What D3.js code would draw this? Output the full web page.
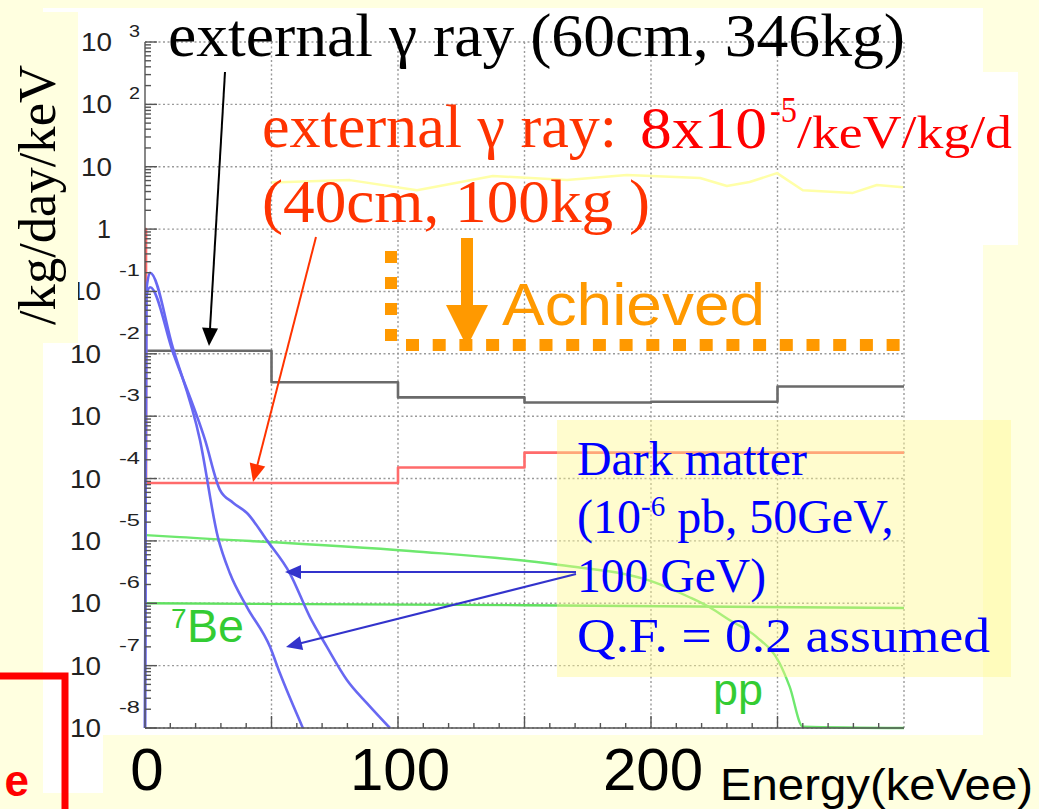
<!DOCTYPE html>
<html>
<head>
<meta charset="utf-8">
<script src="https://cdn.jsdelivr.net/npm/d3@7"></script>
<style>
  html, body { margin: 0; padding: 0; background: #FFFFE0; }
  svg { display: block; }
</style>
</head>
<body>
<svg id="chart" width="1039" height="809"></svg>
<script>
// ---- Data (rate in counts/kg/day/keV versus energy in keVee) ----
// External gamma background, 60 cm shield, 346 kg fiducial (step histogram)
const gamma346Edges = [0, 50, 100, 150, 200, 250, 300];
const gamma346Rate  = [0.0112, 0.0035, 0.0020, 0.00166, 0.0017, 0.0030];

// External gamma background, 40 cm shield, 100 kg fiducial (step histogram)
const gamma100Edges = [0, 0.4, 50, 100, 150, 200, 250, 300];
const gamma100Rate  = [1.0, 8.5e-5, 8.5e-5, 1.5e-4, 2.6e-4, 2.6e-4, 2.6e-4];

// Dark matter recoil spectra, 1e-6 pb, Q.F. = 0.2
const dm50Energy  = [0, 0.5, 2, 11, 21.7, 28.8, 33.6, 40.3, 49.4, 53.3, 62.4];
const dm50Rate    = [1e-8, 0.1, 0.2, 0.0126, 4.2e-4, 1.15e-5, 3.0e-6, 8.7e-7, 2.0e-7, 7.6e-8, 1.0e-8];
const dm100Energy = [0, 0.5, 2, 11, 23.7, 29.6, 34.8, 40.3, 48.2, 57.3, 65.2, 71.9, 79.8, 87.7, 96.8];
const dm100Rate   = [1e-8, 0.08, 0.117, 0.0107, 4.2e-4, 6.6e-5, 4.1e-5, 2.8e-5, 1.02e-5, 3.0e-6, 6.0e-7, 2.0e-7, 5.9e-8, 2.5e-8, 1.0e-8];

// Solar neutrino backgrounds
const ppEnergy  = [0, 13.8, 104.7, 164, 199.5, 215, 223, 231, 241.7, 250.8, 254.8, 260, 300];
const ppRate    = [1.24e-5, 1.15e-5, 6.9e-6, 4.1e-6, 2.3e-6, 1.26e-6, 8.7e-7, 5.4e-7, 2.9e-7, 1.1e-7, 4.6e-8, 1.05e-8, 1.0e-8];
const be7Energy = [0, 150, 300];
const be7Rate   = [1.0e-6, 0.93e-6, 0.84e-6];

// Faint reference spectrum near 10 counts/kg/day/keV
const faintEnergy = [50, 81, 107.5, 137.5, 166.8, 190.5, 219.4, 230, 239, 249.8, 260, 279.8, 289.3, 299.6];
const faintRate   = [5.6, 6.1, 4.2, 7.1, 6.1, 7.4, 6.6, 4.9, 5.7, 7.9, 4.2, 3.8, 5.1, 4.7];

// Axis ticks
const yDecades = [-8, -7, -6, -5, -4, -3, -2, -1, 0, 1, 2, 3];
const xGridTicks = [0, 50, 100, 150, 200, 250, 300];
const xLabelTicks = [0, 100, 200];
const xTitle = "Energy(keVee)";
const yTitle = "/kg/day/keV";

// ---- Layout ----
const svg = d3.select("#chart");
const x = d3.scaleLinear().domain([0, 300]).range([145, 904]);
const y = d3.scaleLog().domain([1e-8, 1e3]).range([728, 42]);

const CREAM = "#FFFFE0";
const SERIF = "'Liberation Serif', 'Times New Roman', serif";
const SANS = "'Liberation Sans', Arial, Helvetica, sans-serif";

// slide background and chart panel
svg.append("rect").attr("width", 1039).attr("height", 809).attr("fill", CREAM);
const panels = [[43, 8, 940, 727], [43, 735, 60, 58], [900, 72, 118, 173]];
svg.selectAll("rect.panel").data(panels).join("rect").attr("class", "panel")
  .attr("x", d => d[0]).attr("y", d => d[1]).attr("width", d => d[2]).attr("height", d => d[3])
  .attr("fill", "#FFFFFF");

// ---- Grid ----
const grid = svg.append("g").attr("stroke", "#9a9a9a").attr("stroke-width", 1.4)
  .attr("stroke-dasharray", "2,2.5");
grid.selectAll("line.h").data(yDecades).join("line").attr("class", "h")
  .attr("x1", x(0)).attr("x2", x(300))
  .attr("y1", d => y(Math.pow(10, d))).attr("y2", d => y(Math.pow(10, d)));
grid.selectAll("line.v").data(xGridTicks.slice(1)).join("line").attr("class", "v")
  .attr("x1", d => x(d)).attr("x2", d => x(d)).attr("y1", y(1e3)).attr("y2", y(1e-8));

// ---- Series ----
function stepPoints(edges, rates) {
  const pts = rates.map((r, i) => [edges[i], r]);
  pts.push([edges[edges.length - 1], rates[rates.length - 1]]);
  return pts;
}
const zip = (xs, ys) => xs.map((v, i) => [v, ys[i]]);
const stepLine = d3.line().x(d => x(d[0])).y(d => y(d[1])).curve(d3.curveStepAfter);
const smoothLine = d3.line().x(d => x(d[0])).y(d => y(d[1])).curve(d3.curveMonotoneX);
const straightLine = d3.line().x(d => x(d[0])).y(d => y(d[1]));

const plot = svg.append("g").attr("fill", "none").attr("stroke-linejoin", "round");
plot.append("path").attr("d", straightLine(zip(faintEnergy, faintRate)))
  .attr("stroke", "#FFFFA8").attr("stroke-width", 2.5);
plot.append("path").attr("d", stepLine(stepPoints(gamma346Edges, gamma346Rate)))
  .attr("stroke", "#6a6a6a").attr("stroke-width", 2.6);
plot.append("path").attr("d", stepLine(stepPoints(gamma100Edges, gamma100Rate)))
  .attr("stroke", "#FF6b6b").attr("stroke-width", 2.6);
plot.append("path").attr("d", smoothLine(zip(be7Energy, be7Rate)))
  .attr("stroke", "#5FE05F").attr("stroke-width", 2.4);
plot.append("path").attr("d", smoothLine(zip(ppEnergy, ppRate)))
  .attr("stroke", "#6EE86E").attr("stroke-width", 2.4);
plot.append("path").attr("d", smoothLine(zip(dm50Energy, dm50Rate)))
  .attr("stroke", "#6868F2").attr("stroke-width", 2.6);
plot.append("path").attr("d", smoothLine(zip(dm100Energy, dm100Rate)))
  .attr("stroke", "#6868F2").attr("stroke-width", 2.6);

// ---- Axes ----
const axes = svg.append("g").attr("stroke", "#555").attr("stroke-width", 1.4);
axes.append("line").attr("x1", x(0)).attr("x2", x(0)).attr("y1", y(1e3)).attr("y2", y(1e-8));
axes.append("line").attr("x1", x(0)).attr("x2", x(300)).attr("y1", y(1e-8)).attr("y2", y(1e-8));
const minorY = [];
yDecades.slice(0, -1).forEach(k => { for (let m = 2; m <= 9; m++) minorY.push(m * Math.pow(10, k)); });
axes.selectAll("line.ym").data(minorY).join("line").attr("class", "ym")
  .attr("x1", x(0)).attr("x2", x(0) + 6).attr("y1", d => y(d)).attr("y2", d => y(d));
axes.selectAll("line.yM").data(yDecades).join("line").attr("class", "yM")
  .attr("x1", x(0)).attr("x2", x(0) + 12)
  .attr("y1", d => y(Math.pow(10, d))).attr("y2", d => y(Math.pow(10, d)));
axes.selectAll("line.xm").data(d3.range(10, 300, 10)).join("line").attr("class", "xm")
  .attr("x1", d => x(d)).attr("x2", d => x(d))
  .attr("y1", y(1e-8)).attr("y2", d => y(1e-8) - (d % 50 === 0 ? 12 : 5));

// y tick labels: "10" with exponent raised to the upper right
const yLab = svg.append("g").attr("font-family", SANS).attr("fill", "#222");
yDecades.forEach(k => {
  const gy = y(Math.pow(10, k));
  if (k === 0) {
    yLab.append("text").attr("x", 111).attr("y", gy + 9).attr("text-anchor", "end")
      .attr("font-size", 25).text("1");
    return;
  }
  const baseRight = k > 0 ? 112 : 101;
  yLab.append("text").attr("x", baseRight).attr("y", gy + 9).attr("text-anchor", "end")
    .attr("font-size", 25).attr("textLength", 31).attr("lengthAdjust", "spacingAndGlyphs").text("10");
  if (k !== 1) {
    const exp = String(k);
    yLab.append("text").attr("x", 140).attr("y", gy + (k > 0 ? -5 : -15)).attr("text-anchor", "end")
      .attr("font-size", 17).attr("textLength", exp.length > 1 ? 21 : 11)
      .attr("lengthAdjust", "spacingAndGlyphs").text(exp);
  }
});

// x tick labels and title
svg.append("g").attr("font-family", SANS).attr("fill", "#000")
  .selectAll("text").data(xLabelTicks).join("text")
  .attr("x", d => x(d) + 2).attr("y", 790).attr("text-anchor", "middle")
  .attr("font-size", 60).text(d => d);
svg.append("text").attr("x", 720).attr("y", 800).attr("font-family", SANS).attr("font-size", 44)
  .attr("textLength", 313).attr("lengthAdjust", "spacingAndGlyphs").attr("fill", "#000").text(xTitle);

// y-axis title on its cream label strip
svg.append("rect").attr("x", 0).attr("y", 12).attr("width", 78).attr("height", 331).attr("fill", CREAM);
svg.append("text").attr("transform", "translate(55,325) rotate(-90)")
  .attr("font-family", SERIF).attr("font-size", 53).attr("fill", "#000")
  .attr("textLength", 260).attr("lengthAdjust", "spacingAndGlyphs").text(yTitle);

// ---- Dark matter note box ----
svg.append("rect").attr("x", 557).attr("y", 420).attr("width", 454).attr("height", 257)
  .attr("fill", "#FFF98A").attr("fill-opacity", 0.42);
const dm = svg.append("g").attr("font-family", SERIF).attr("fill", "#0000FF").attr("font-size", 48);
dm.append("text").attr("x", 577).attr("y", 475).attr("textLength", 230)
  .attr("lengthAdjust", "spacingAndGlyphs").text("Dark matter");
const l2 = dm.append("text").attr("x", 577).attr("y", 533);
l2.append("tspan").text("(10");
l2.append("tspan").attr("font-size", 29).attr("dy", -17).text("-6");
l2.append("tspan").attr("dy", 17).text(" pb, 50GeV,");
dm.append("text").attr("x", 577).attr("y", 592).attr("textLength", 189)
  .attr("lengthAdjust", "spacingAndGlyphs").text("100 GeV)");
dm.append("text").attr("x", 577).attr("y", 652).attr("textLength", 413)
  .attr("lengthAdjust", "spacingAndGlyphs").text("Q.F. = 0.2 assumed");

// ---- Arrows ----
function arrow(x1, y1, x2, y2, color, width, headLen, headHalf) {
  const dx = x2 - x1, dy = y2 - y1, len = Math.hypot(dx, dy);
  const ux = dx / len, uy = dy / len;
  const bx = x2 - ux * headLen, by = y2 - uy * headLen;
  svg.append("line").attr("x1", x1).attr("y1", y1).attr("x2", bx + ux * 2).attr("y2", by + uy * 2)
    .attr("stroke", color).attr("stroke-width", width);
  svg.append("polygon").attr("fill", color).attr("points", [
    [x2, y2], [bx - uy * headHalf, by + ux * headHalf], [bx + uy * headHalf, by - ux * headHalf]
  ].map(p => p.join(",")).join(" "));
}
arrow(225, 72, 209, 346, "#000000", 2, 18, 8);
arrow(316, 237, 253, 482, "#FF3300", 2, 18, 8);
arrow(576, 572, 285, 572, "#3333CC", 2, 16, 7);
arrow(576, 574, 286, 647, "#3333CC", 2, 16, 7);

// ---- Achieved marker ----
const ORANGE = "#FF9900";
svg.append("line").attr("x1", 391).attr("x2", 391).attr("y1", 251).attr("y2", 343)
  .attr("stroke", ORANGE).attr("stroke-width", 12).attr("stroke-dasharray", "12,14");
svg.append("line").attr("x1", 406).attr("x2", 900).attr("y1", 345).attr("y2", 345)
  .attr("stroke", ORANGE).attr("stroke-width", 12).attr("stroke-dasharray", "13,13.7");
svg.append("rect").attr("x", 461).attr("y", 238).attr("width", 12).attr("height", 70).attr("fill", ORANGE);
svg.append("polygon").attr("points", "446,305 488,305 467,347").attr("fill", ORANGE);
svg.append("text").attr("x", 502).attr("y", 325).attr("font-family", SANS).attr("font-size", 60)
  .attr("textLength", 263).attr("lengthAdjust", "spacingAndGlyphs").attr("fill", ORANGE).text("Achieved");

// ---- Headline annotations ----
svg.append("text").attr("x", 168).attr("y", 56).attr("font-family", SERIF).attr("font-size", 62)
  .attr("textLength", 737).attr("lengthAdjust", "spacingAndGlyphs").attr("fill", "#000")
  .text("external γ ray (60cm, 346kg)");
const t2 = svg.append("g").attr("font-family", SERIF);
t2.append("text").attr("x", 262).attr("y", 147).attr("font-size", 62).attr("fill", "#FF3300")
  .attr("textLength", 355).attr("lengthAdjust", "spacingAndGlyphs").text("external γ ray:");
t2.append("text").attr("x", 640).attr("y", 148).attr("font-size", 60).attr("fill", "#FF0000")
  .attr("textLength", 127).attr("lengthAdjust", "spacingAndGlyphs").text("8x10");
t2.append("text").attr("x", 770).attr("y", 122).attr("font-size", 36).attr("fill", "#FF0000")
  .attr("textLength", 27).attr("lengthAdjust", "spacingAndGlyphs").text("-5");
t2.append("text").attr("x", 797).attr("y", 148).attr("font-size", 46).attr("fill", "#FF0000")
  .attr("textLength", 215).attr("lengthAdjust", "spacingAndGlyphs").text("/keV/kg/d");
t2.append("text").attr("x", 262).attr("y", 222).attr("font-size", 62).attr("fill", "#FF3300")
  .attr("textLength", 388).attr("lengthAdjust", "spacingAndGlyphs").text("(40cm, 100kg )");

// ---- Neutrino labels ----
const nu = svg.append("g").attr("font-family", SANS).attr("fill", "#33CC33");
nu.append("text").attr("x", 171).attr("y", 628).attr("font-size", 28).text("7");
nu.append("text").attr("x", 187).attr("y", 642).attr("font-size", 46)
  .attr("textLength", 57).attr("lengthAdjust", "spacingAndGlyphs").text("Be");
nu.append("text").attr("x", 713).attr("y", 705).attr("font-size", 44)
  .attr("textLength", 50).attr("lengthAdjust", "spacingAndGlyphs").text("pp");

// ---- Neighbouring slide frame ----
svg.append("path").attr("d", "M0,676 H65 V809").attr("fill", "none")
  .attr("stroke", "#FF0000").attr("stroke-width", 7);
svg.append("text").attr("x", 29).attr("y", 796).attr("text-anchor", "end")
  .attr("font-family", SANS).attr("font-weight", "bold").attr("font-size", 44)
  .attr("fill", "#FF0000").text("e");
</script>
</body>
</html>
